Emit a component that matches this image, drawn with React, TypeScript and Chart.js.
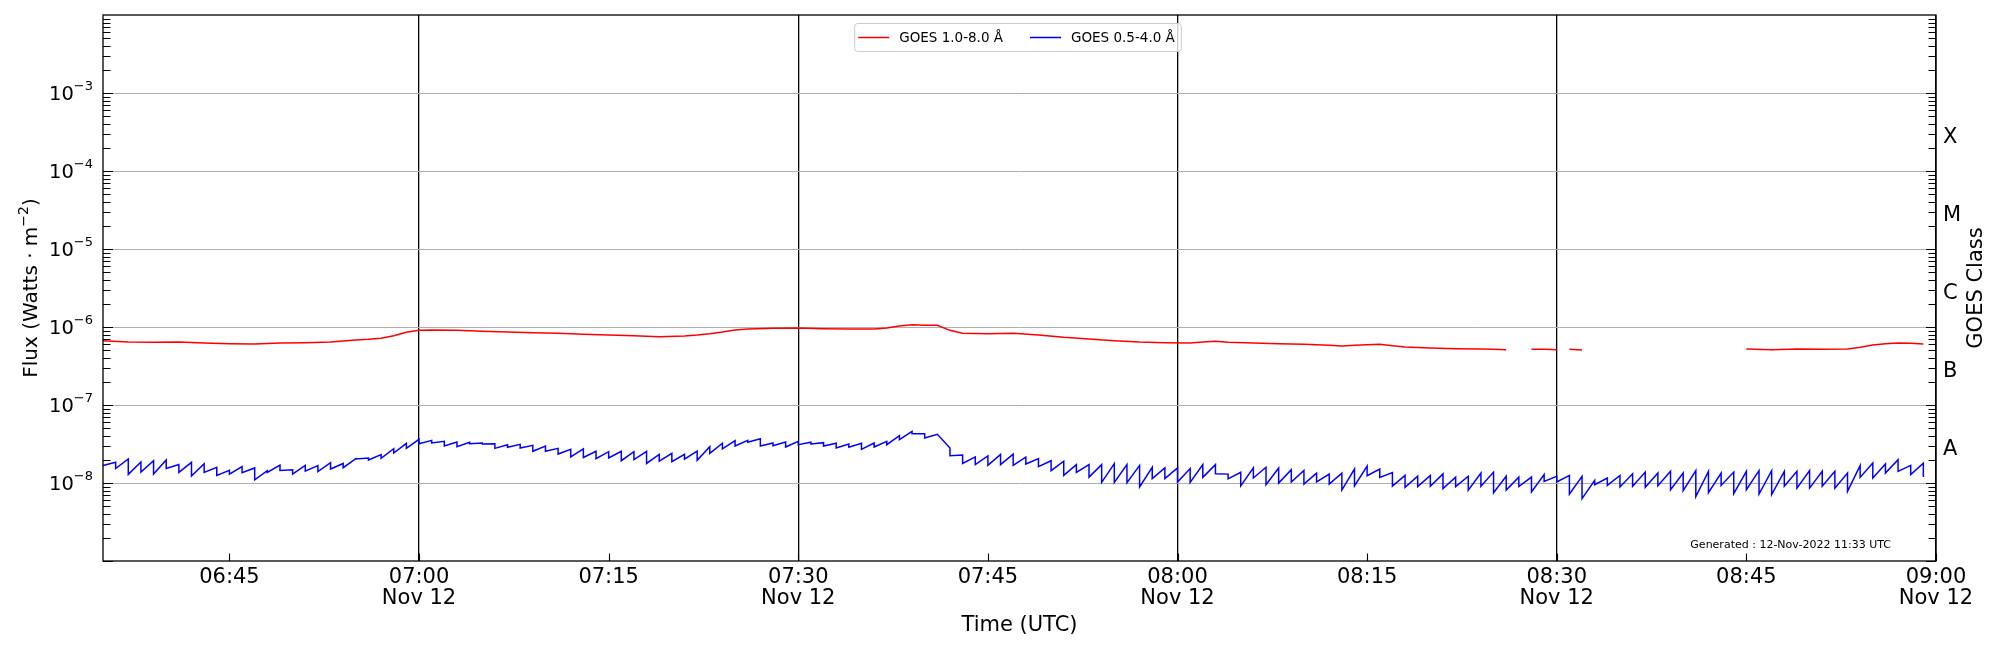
import { useEffect, useRef } from "react";
import { Chart, registerables } from "chart.js";

Chart.register(...registerables);

// GOES XRS flux, 12 Nov 2022 06:35 - 09:00 UTC
const axisStart = "06:35";
const axisEnd = "09:00";
const dateLabel = "Nov 12";
const generatedNote = "Generated : 12-Nov-2022 11:33 UTC";

// 1.0-8.0 A channel (null = data gap)
const redTimes = [
  "06:35", "06:37", "06:39", "06:41", "06:43", "06:45", "06:47", "06:49", "06:51", "06:53",
  "06:55", "06:56", "06:57", "06:58", "06:59", "07:00", "07:01", "07:03", "07:05", "07:07",
  "07:09", "07:11", "07:13", "07:15", "07:17", "07:19", "07:21", "07:22", "07:23", "07:24",
  "07:25", "07:26", "07:28", "07:30", "07:32", "07:34", "07:36", "07:37", "07:38", "07:39",
  "07:40", "07:41", "07:42", "07:43", "07:45", "07:47", "07:49", "07:51", "07:53", "07:55",
  "07:57", "07:59", "08:01", "08:02", "08:03", "08:04", "08:06", "08:08", "08:10", "08:12",
  "08:13", "08:14", "08:16", "08:17", "08:18", "08:20", "08:22", "08:24", "08:25", "08:26",
  "08:27", "08:28", "08:29", "08:30", "08:30:30", "08:31", "08:32", "08:33",
  "08:45", "08:47", "08:49", "08:51", "08:53", "08:54", "08:55", "08:56", "08:57", "08:58", "08:59",
];
const redFlux = [
  6.68e-7, 6.42e-7, 6.36e-7, 6.42e-7, 6.24e-7, 6.12e-7, 6.06e-7, 6.24e-7, 6.3e-7, 6.42e-7,
  6.81e-7, 6.95e-7, 7.16e-7, 7.74e-7, 8.54e-7, 9.06e-7, 9.15e-7, 9.06e-7, 8.8e-7, 8.63e-7,
  8.46e-7, 8.29e-7, 8.05e-7, 7.9e-7, 7.74e-7, 7.52e-7, 7.67e-7, 7.9e-7, 8.21e-7, 8.63e-7,
  9.15e-7, 9.43e-7, 9.61e-7, 9.71e-7, 9.52e-7, 9.43e-7, 9.43e-7, 9.71e-7, 1.03e-6, 1.07e-6,
  1.05e-6, 1.05e-6, 9.06e-7, 8.29e-7, 8.21e-7, 8.29e-7, 7.9e-7, 7.37e-7, 7.02e-7, 6.68e-7,
  6.42e-7, 6.3e-7, 6.24e-7, 6.42e-7, 6.55e-7, 6.36e-7, 6.24e-7, 6.12e-7, 6.0e-7, 5.82e-7,
  5.71e-7, 5.82e-7, 6.0e-7, 5.76e-7, 5.54e-7, 5.38e-7, 5.27e-7, 5.22e-7, 5.17e-7, 5.12e-7,
  null, 5.17e-7, 5.17e-7, 5.12e-7, null, 5.17e-7, 5.07e-7, null,
  5.22e-7, 5.12e-7, 5.22e-7, 5.17e-7, 5.22e-7, 5.49e-7, 5.88e-7, 6.12e-7, 6.24e-7, 6.18e-7, 6.06e-7,
];

// 0.5-4.0 A channel: one saw tooth per minute from 06:35,
// value just after the drop at the start of the minute and just before the next drop
const blueFirstMinute = "06:35";
const blueMinuteStart = [
  1.67e-8, 1.53e-8, 1.29e-8, 1.38e-8, 1.3e-8, 1.54e-8, 1.37e-8, 1.23e-8, 1.37e-8, 1.25e-8,
  1.3e-8, 1.36e-8, 1.1e-8, 1.37e-8, 1.45e-8, 1.3e-8, 1.42e-8, 1.4e-8, 1.51e-8, 1.57e-8,
  2.03e-8, 1.97e-8, 2.07e-8, 2.42e-8, 2.78e-8, 3.19e-8, 3.26e-8, 2.98e-8, 2.92e-8, 3.19e-8,
  3.16e-8, 2.78e-8, 2.87e-8, 2.81e-8, 2.55e-8, 2.55e-8, 2.35e-8, 2.16e-8, 2.12e-8, 2.05e-8,
  2.09e-8, 1.93e-8, 1.99e-8, 1.78e-8, 1.9e-8, 1.88e-8, 2.03e-8, 1.95e-8, 2.4e-8, 2.73e-8,
  2.98e-8, 3.33e-8, 2.98e-8, 3.01e-8, 2.89e-8, 3.1e-8, 3.16e-8, 2.98e-8, 2.81e-8, 2.87e-8,
  2.7e-8, 2.89e-8, 3.1e-8, 3.59e-8, 4.29e-8, 3.78e-8, 4.21e-8, 2.24e-8, 1.78e-8, 1.72e-8,
  1.68e-8, 1.72e-8, 1.68e-8, 1.75e-8, 1.62e-8, 1.44e-8, 1.25e-8, 1.37e-8, 1.19e-8, 1.02e-8,
  1.02e-8, 1.01e-8, 0.89e-8, 1.14e-8, 1.14e-8, 1.03e-8, 1.02e-8, 1.18e-8, 1.31e-8, 1.13e-8,
  0.92e-8, 1.16e-8, 0.95e-8, 1.0e-8, 1.03e-8, 0.97e-8, 1.03e-8, 0.97e-8, 0.81e-8, 0.92e-8,
  1.24e-8, 1.18e-8, 0.91e-8, 0.88e-8, 0.9e-8, 0.91e-8, 0.85e-8, 0.9e-8, 0.81e-8, 0.91e-8,
  0.75e-8, 0.81e-8, 0.9e-8, 0.77e-8, 1.05e-8, 1.03e-8, 0.72e-8, 0.63e-8, 0.95e-8, 0.93e-8,
  0.89e-8, 0.91e-8, 0.88e-8, 0.92e-8, 0.82e-8, 0.8e-8, 0.67e-8, 0.75e-8, 0.93e-8, 0.73e-8,
  0.82e-8, 0.72e-8, 0.71e-8, 0.91e-8, 0.86e-8, 0.86e-8, 0.91e-8, 0.86e-8, 0.78e-8, 1.18e-8,
  1.16e-8, 1.34e-8, 1.41e-8, 1.28e-8, 1.19e-8,
];
const blueMinuteEnd = [
  1.84e-8, 2.03e-8, 1.86e-8, 1.93e-8, 1.97e-8, 1.72e-8, 1.84e-8, 1.77e-8, 1.59e-8, 1.45e-8,
  1.62e-8, 1.56e-8, 1.44e-8, 1.7e-8, 1.48e-8, 1.68e-8, 1.67e-8, 1.82e-8, 1.78e-8, 2.05e-8,
  2.09e-8, 2.31e-8, 2.75e-8, 3.23e-8, 3.63e-8, 3.52e-8, 3.42e-8, 3.36e-8, 3.33e-8, 3.26e-8,
  3.19e-8, 3.1e-8, 3.13e-8, 3.04e-8, 2.98e-8, 2.78e-8, 2.7e-8, 2.73e-8, 2.55e-8, 2.52e-8,
  2.55e-8, 2.52e-8, 2.55e-8, 2.33e-8, 2.4e-8, 2.33e-8, 2.57e-8, 2.92e-8, 3.23e-8, 3.49e-8,
  3.52e-8, 3.7e-8, 3.26e-8, 3.36e-8, 3.42e-8, 3.33e-8, 3.29e-8, 3.23e-8, 3.16e-8, 3.23e-8,
  3.26e-8, 3.42e-8, 4.05e-8, 4.6e-8, 4.29e-8, 4.21e-8, 2.81e-8, 2.29e-8, 2.16e-8, 2.22e-8,
  2.33e-8, 2.35e-8, 2.14e-8, 2.05e-8, 1.93e-8, 1.9e-8, 1.72e-8, 1.72e-8, 1.72e-8, 1.77e-8,
  1.72e-8, 1.68e-8, 1.59e-8, 1.56e-8, 1.56e-8, 1.53e-8, 1.72e-8, 1.72e-8, 1.3e-8, 1.37e-8,
  1.56e-8, 1.59e-8, 1.56e-8, 1.48e-8, 1.45e-8, 1.34e-8, 1.3e-8, 1.34e-8, 1.51e-8, 1.65e-8,
  1.51e-8, 1.36e-8, 1.25e-8, 1.22e-8, 1.25e-8, 1.31e-8, 1.19e-8, 1.22e-8, 1.34e-8, 1.38e-8,
  1.22e-8, 1.19e-8, 1.19e-8, 1.28e-8, 1.22e-8, 1.25e-8, 1.22e-8, 1.08e-8, 1.16e-8, 1.25e-8,
  1.31e-8, 1.38e-8, 1.34e-8, 1.41e-8, 1.34e-8, 1.44e-8, 1.41e-8, 1.34e-8, 1.38e-8, 1.41e-8,
  1.44e-8, 1.44e-8, 1.41e-8, 1.41e-8, 1.44e-8, 1.41e-8, 1.41e-8, 1.34e-8, 1.68e-8, 1.8e-8,
  1.75e-8, 1.99e-8, 1.68e-8, 1.8e-8,
];

const fluxDecades = [1e-8, 1e-7, 1e-6, 1e-5, 1e-4, 1e-3];
const classLabels = ["A", "B", "C", "M", "X"];
const classFlux = [3.162e-8, 3.162e-7, 3.162e-6, 3.162e-5, 3.162e-4];

const FONT = "'DejaVu Sans'";

const toMin = (t: string) => {
  const [h, m, s] = t.split(":").map(Number);
  return h * 60 + m + (s || 0) / 60;
};
const hhmm = (v: number) =>
  String(Math.floor(v / 60)).padStart(2, "0") + ":" + String(Math.round(v % 60)).padStart(2, "0");

// text with raised exponent parts, drawn left to right from x
type Part = [string, boolean];
const drawSup = (ctx: any, parts: Part[], x: number, y: number, size: number, supSize: number, rise: number) => {
  parts.forEach(([txt, sup]) => {
    ctx.font = `${sup ? supSize : size}px ${FONT}`;
    ctx.fillText(txt, x, sup ? y - rise : y);
    x += ctx.measureText(txt).width;
  });
};
const supWidth = (ctx: any, parts: Part[], size: number, supSize: number) =>
  parts.reduce((w, [txt, sup]) => {
    ctx.font = `${sup ? supSize : size}px ${FONT}`;
    return w + ctx.measureText(txt).width;
  }, 0);

const goesDecor = {
  id: "goesDecor",
  afterDatasetsDraw(chart: any) {
    const { ctx, chartArea: a, scales } = chart;
    const xs = scales.x;
    const ys = scales.y;
    const ys2 = scales.y2;
    ctx.save();

    // inward tick marks
    ctx.strokeStyle = "#000";
    ctx.lineWidth = 1.1;
    ctx.beginPath();
    for (let e = -9; e <= -3; e++) {
      for (let k = 1; k <= 9; k++) {
        const py = Math.round(ys.getPixelForValue(k * Math.pow(10, e))) + 0.5;
        const len = k === 1 ? 10 : 7.5;
        ctx.moveTo(a.left, py);
        ctx.lineTo(a.left + len, py);
        ctx.moveTo(a.right, py);
        ctx.lineTo(a.right - len, py);
      }
    }
    for (let v = toMin(axisStart); v <= toMin(axisEnd); v++) {
      if (v % 15 !== 0) continue;
      const px = Math.round(xs.getPixelForValue(v)) + 0.5;
      ctx.moveTo(px, a.bottom);
      ctx.lineTo(px, a.bottom - 7.5);
    }
    ctx.stroke();

    // frame
    ctx.lineWidth = 1.3;
    ctx.strokeRect(a.left, a.top, a.right - a.left, a.bottom - a.top);

    // left tick labels 10^n
    ctx.fillStyle = "#000";
    ctx.textAlign = "left";
    ctx.textBaseline = "middle";
    ys.ticks.forEach((t: any) => {
      const e = Math.round(Math.log10(t.value));
      const parts: Part[] = [["10", false], ["\u2212" + Math.abs(e), true]];
      const w = supWidth(ctx, parts, 19.5, 13);
      drawSup(ctx, parts, a.left - 10 - w, ys.getPixelForValue(t.value) + 2, 19.5, 13, 8);
    });

    // right class labels
    ctx.font = `21px ${FONT}`;
    ys2.ticks.forEach((t: any, i: number) => {
      ctx.fillText(classLabels[i], a.right + 7, ys2.getPixelForValue(t.value) + 6);
    });

    // left axis title
    const tparts: Part[] = [["Flux (Watts \u00B7 m", false], ["\u22122", true], [")", false]];
    const tw = supWidth(ctx, tparts, 20, 14);
    ctx.save();
    ctx.translate(32, (a.top + a.bottom) / 2);
    ctx.rotate(-Math.PI / 2);
    drawSup(ctx, tparts, -tw / 2, 0, 20, 14, 8);
    ctx.restore();

    // legend box
    const items = chart.data.datasets.map((d: any) => ({ label: d.label, color: d.borderColor }));
    const legendFont = `13.5px ${FONT}`;
    ctx.font = legendFont;
    const lineLen = 31, gapText = 10, gapItem = 27, padL = 4, padR = 6, boxH = 28;
    const widths = items.map((it: any) => ctx.measureText(it.label).width);
    const total = padL + padR + widths.reduce((s: number, w: number) => s + lineLen + gapText + w, 0) + gapItem * (items.length - 1);
    const bx = (a.left + a.right) / 2 - total / 2 - 2;
    const by = a.top + 8;
    ctx.fillStyle = "rgba(255,255,255,0.8)";
    ctx.strokeStyle = "#cccccc";
    ctx.lineWidth = 1;
    ctx.beginPath();
    ctx.roundRect(bx + 0.5, by + 0.5, total, boxH, 3);
    ctx.fill();
    ctx.stroke();
    let cx = bx + padL;
    const cy = by + boxH / 2;
    items.forEach((it: any, i: number) => {
      ctx.strokeStyle = it.color;
      ctx.lineWidth = 1.5;
      ctx.beginPath();
      ctx.moveTo(cx, cy + 0.5);
      ctx.lineTo(cx + lineLen, cy + 0.5);
      ctx.stroke();
      ctx.fillStyle = "#000";
      ctx.textAlign = "left";
      ctx.textBaseline = "middle";
      ctx.font = legendFont;
      ctx.fillText(it.label, cx + lineLen + gapText, cy + 1);
      cx += lineLen + gapText + widths[i] + gapItem;
    });

    // generated note
    ctx.font = `11px ${FONT}`;
    ctx.fillStyle = "#000";
    ctx.textAlign = "right";
    ctx.textBaseline = "middle";
    ctx.fillText(generatedNote, a.right - 45, a.bottom - 16);

    // right axis title, reading upwards
    ctx.font = `21px ${FONT}`;
    ctx.translate(a.right + 41, (a.top + a.bottom) / 2);
    ctx.rotate(-Math.PI / 2);
    ctx.textAlign = "center";
    ctx.fillText("GOES Class", 0, 0);
    ctx.restore();
  },
};

const App = () => {
  const chartRef = useRef<HTMLCanvasElement>(null);

  useEffect(() => {
    if (!chartRef.current) return;

    const bluePoints: { x: number; y: number }[] = [];
    const b0 = toMin(blueFirstMinute);
    blueMinuteEnd.forEach((v, i) => {
      bluePoints.push({ x: b0 + i, y: blueMinuteStart[i] });
      bluePoints.push({ x: b0 + i + 1, y: v });
    });
    bluePoints.push({ x: b0 + blueMinuteEnd.length, y: blueMinuteStart[blueMinuteEnd.length] });

    const xMin = toMin(axisStart);
    const xMax = toMin(axisEnd);

    const myChart = new Chart(chartRef.current, {
      type: "line",
      data: {
        datasets: [
          {
            label: "GOES 1.0-8.0 Å",
            data: redTimes.map((t, i) => ({ x: toMin(t), y: redFlux[i] })),
            borderColor: "#ff0000",
            spanGaps: false,
            yAxisID: "y",
          },
          {
            label: "GOES 0.5-4.0 Å",
            data: bluePoints,
            borderColor: "#0000ff",
            yAxisID: "y",
          },
        ],
      },
      options: {
        animation: false,
        responsive: false,
        events: [],
        layout: { padding: { top: 15, left: 0, right: 0, bottom: 0 } },
        elements: {
          point: { radius: 0 },
          line: { borderWidth: 1.5, tension: 0 },
        },
        plugins: {
          legend: { display: false },
          tooltip: { enabled: false },
        },
        scales: {
          x: {
            type: "linear",
            min: xMin,
            max: xMax,
            afterBuildTicks: (s: any) => {
              const t = [];
              for (let v = xMin; v <= xMax; v++) if (v % 15 === 0) t.push({ value: v });
              s.ticks = t;
            },
            afterFit: (s: any) => {
              s.height = 89;
            },
            ticks: {
              autoSkip: false,
              maxRotation: 0,
              padding: 6,
              color: "#000",
              font: { family: FONT, size: 21, lineHeight: 1.0 },
              callback: (v: any) => (v % 30 === 0 ? [hhmm(v), dateLabel] : hhmm(v)),
            },
            grid: {
              drawTicks: false,
              lineWidth: 1.3,
              color: (c: any) => (c.tick && c.tick.value % 30 === 0 ? "#000" : "rgba(0,0,0,0)"),
            },
            border: { display: false },
            title: {
              display: true,
              text: "Time (UTC)",
              color: "#000",
              font: { family: FONT, size: 21 },
              padding: { top: 0, bottom: 12 },
            },
          },
          y: {
            type: "logarithmic",
            position: "left",
            min: 1e-9,
            max: 1e-2,
            afterBuildTicks: (s: any) => {
              s.ticks = fluxDecades.map((v) => ({ value: v }));
            },
            afterFit: (s: any) => {
              s.width = 103;
            },
            ticks: { display: false },
            grid: { drawTicks: false, lineWidth: 1, color: "#b0b0b0" },
            border: { display: false },
          },
          y2: {
            type: "logarithmic",
            position: "right",
            min: 1e-9,
            max: 1e-2,
            afterBuildTicks: (s: any) => {
              s.ticks = classFlux.map((v) => ({ value: v }));
            },
            afterFit: (s: any) => {
              s.width = 64;
            },
            ticks: { display: false },
            grid: { display: false, drawTicks: false },
            border: { display: false },
          },
        },
      },
      plugins: [goesDecor],
    });

    return () => {
      myChart.destroy();
    };
  }, []);

  return (
    <div style={{ position: "absolute", left: 0, top: 0, width: 2000, height: 650, background: "#fff" }}>
      <canvas ref={chartRef} width={2000} height={650} />
    </div>
  );
};

export default App;
